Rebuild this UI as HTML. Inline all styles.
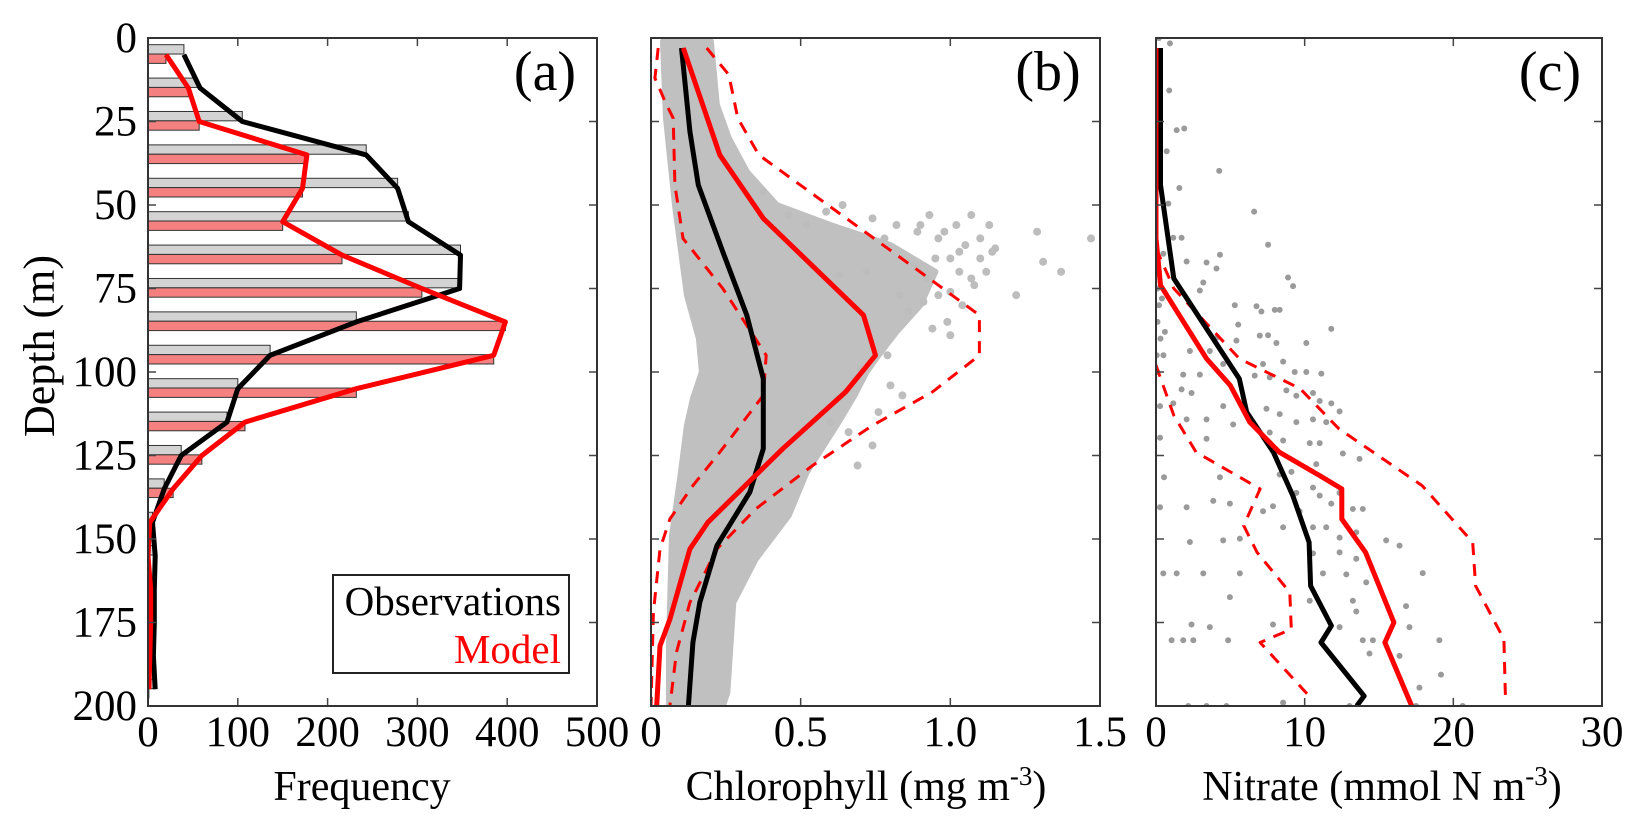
<!DOCTYPE html>
<html><head><meta charset="utf-8"><style>
html,body{margin:0;padding:0;background:#fff}
svg{display:block}
svg text{font-family:"Liberation Serif","DejaVu Serif","Times New Roman",Times,serif}
</style></head><body>
<svg id="c" width="1644" height="827" viewBox="0 0 1644 827" xmlns="http://www.w3.org/2000/svg" font-family="Liberation Serif, DejaVu Serif, serif"></svg>
<script>
// ---------- Panel (a) data ----------
const binDepths=[0,10,20,30,40,50,60,70,80,90,100,110,120,130,140,150,160,170,180,190];
const obsFreq=[40,55,105,243,278,290,348,347,232,136,100,88,37,18,5,8,7,7,6,8];
const modelFreq=[20,45,57,177,172,150,216,305,398,385,232,108,60,28,2,0,3,3,2,1];
const obsLineFreq=[40,58,105,243,278,290,348,347,232,136,100,88,37,18,5,8,7,7,6,8];
const modelLineFreq=[20,45,57,177,172,150,216,305,398,385,232,108,60,28,2,0,3,3,2,1];
const freqTicks=[0,100,200,300,400,500];
const depthTicks=[0,25,50,75,100,125,150,175,200];
// ---------- Panel (b) data ----------
const chlMedDepth=[3,28,44,64,83,102,123,136,152,169,181,200];
const chlMed=[0.102,0.13,0.158,0.24,0.32,0.375,0.375,0.33,0.22,0.163,0.14,0.125];
const chlModDepth=[3,35,54,83,95,106,123,145,153,174,182,200];
const chlMod=[0.108,0.23,0.375,0.71,0.75,0.65,0.44,0.19,0.13,0.063,0.03,0.019];
const chlHiDepth=[3,11,24,35,48,61,74,83,95,106,116,128,141,153,169,184,200];
const chlHi=[0.186,0.26,0.29,0.36,0.56,0.76,0.96,1.097,1.097,0.94,0.74,0.54,0.35,0.22,0.13,0.085,0.063];
const chlLoDepth=[3,12,19,24,44,60,75,95,107,124,134,144,153,172,200];
const chlLo=[0.024,0.013,0.047,0.074,0.08,0.107,0.24,0.385,0.375,0.23,0.14,0.063,0.03,0.008,0];
const cloudLeftDepth=[1,24,50,77,90,100,108,116,130,149,182,200];
const cloudLeft=[0.04,0.05,0.08,0.12,0.16,0.17,0.14,0.12,0.1,0.07,0.06,0.06];
const cloudRightDepth=[1,20,30,40,50,56,62,70,80,88,95,100,107,116,130,143,156,169,196,200];
const cloudRight=[0.2,0.22,0.26,0.32,0.42,0.6,0.8,0.95,0.9,0.82,0.76,0.72,0.68,0.62,0.52,0.46,0.35,0.275,0.255,0.24];
const chlDotVal=[0.375,0.46,0.52,0.585,0.64,0.74,0.82,0.93,1.02,1.07,1.13,1.14,1.10,1.03,0.96,0.89,1.07,0.96,0.91,0.99,0.94,1.0,1.22,1.29,1.31,1.37,1.47,0.79,0.80,0.84,0.76,0.74,0.69,0.62,1.03,0.83,0.72,0.63,1.1,1.05,1.0,0.98,1.12,1.08,0.95,0.88,0.92,1.15,1.04,0.86,0.78,0.9,1.0,0.7,0.68,0.6,0.66];
const chlDotDepth=[46,53,56,52,50,54,56,53,56,53,56,64,66,64,60,58,72,77,79,85,87,89,77,58,67,70,60,95,104,107,112,122,128,108,70,77,70,71,60,62,66,58,70,74,66,68,72,63,80,82,60,56,76,99,102,115,118];
const chlTicks=[0,0.5,1.0,1.5];
const chlTickLabels=["0","0.5","1.0","1.5"];
// ---------- Panel (c) data ----------
const no3MedDepth=[3,44,72,102,112,124,137,151,164,176,181,197,200];
const no3Med=[0.3,0.3,1.2,5.6,6.1,7.9,9.2,10.3,10.4,11.8,11.1,14,13.5];
const no3ModDepth=[3,60,74,96,104,115,124,131,135,144,154,175,181,200];
const no3Mod=[0,0,0.3,3.4,5,6.3,8.3,11,12.5,12.5,14.1,16,15.4,17.2];
const no3HiDepth=[63,75,96,105,117,134,151,164,180,197];
const no3Hi=[0,1.2,5.6,9.7,12.3,17.9,21.3,21.5,23.4,23.5];
const no3LoDepth=[98,113,124,135,146,154,166,177,181,197];
const no3Lo=[0,1.2,2.7,7,5.9,6.8,9,9.1,7,10.3];
const no3DotVal=[0.94,0.89,1.39,1.90,0.72,4.25,1.57,0.83,6.60,7.54,1.16,1.72,0.49,2.06,3.40,4.07,4.30,8.88,9.22,3.18,2.95,5.30,6.76,7.09,7.99,8.32,11.79,5.53,4.07,6.98,7.54,8.10,10.11,5.41,2.28,3.62,4.52,7.20,8.55,9.33,10.11,11.12,1.83,2.95,6.64,7.65,8.77,9.44,10.56,11.01,11.79,1.72,2.39,0.27,1.16,4.52,7.43,8.32,10.56,9.44,11.45,12.35,3.40,2.06,5.19,0.27,3.40,7.65,8.55,11.01,10.34,12.57,13.69,0.54,4.30,8.32,9.11,10.78,9.44,11.01,12.35,10.56,3.85,4.97,7.87,9.66,11.79,13.24,13.91,0.27,2.06,7.20,8.55,10.56,11.45,12.35,13.47,4.52,2.28,5.64,12.35,13.47,10.56,15.48,16.38,0.49,1.39,3.18,5.64,11.23,12.80,14.14,17.94,4.97,10.34,13.24,16.82,13.47,2.39,3.62,7.87,12.35,17.05,1.05,1.83,2.51,4.85,13.91,14.59,19.06,14.36,16.38,19.17,17.72,2.17,3.40,4.74,8.55,13.02,20.63,17.49,0.1,0.2,0.1,0.3,0.05,0.2,0.4,0.6,0.1,0.5,0.0,0.2,0.1];
const no3DotDepth=[1.6,15.7,27.6,27.1,33.9,39.8,44.9,49.6,52.0,61.9,59.8,59.8,64.6,66.9,67.2,69.0,64.9,71.7,74.3,73.2,75.6,80.0,80.3,81.9,81.4,81.4,87.1,85.8,89.8,89.1,89.0,91.3,91.3,90.6,93.7,93.7,97.6,97.6,96.9,100,100,100.5,100.8,100.8,101.1,101.6,105.5,107.1,106.3,108.7,109.4,105.2,106.3,110.2,109.4,110.2,111,112.6,114.2,115,115,111.8,114.2,114.2,115.7,119.7,120,118.1,120.5,121.3,121.3,124.4,126,131.5,131.5,130.7,129.9,127.6,136.2,137,136.2,134.6,138.6,139.4,140.2,141.7,139.4,141,141,140.5,140.5,141.7,146.5,146.5,146.5,149.6,148,150.4,150.9,149.9,154,155.9,154.3,150.4,152,160.3,160.3,160.3,160.3,160.3,160.6,163,160.2,167.4,168.5,168.5,170.1,171.7,175.6,176.4,175.6,176.4,176.4,180.3,180.3,180.3,180.3,180.3,180.3,180.3,184.3,185,190.6,194.5,200,200,200,199,200,200,200,75,80,85,90,95,70,78,88,100,95,0,0,5];
const no3Ticks=[0,10,20,30];

// ---------- Layout ----------
const NS="http://www.w3.org/2000/svg";
const svg=document.getElementById('c');
const Y0=38,Y1=706;
const yD=d=>Y0+d*(Y1-Y0)/200;
const panels={
 a:{x0:148,x1:597,min:0,max:500},
 b:{x0:651,x1:1100,min:0,max:1.5},
 c:{x0:1156,x1:1602,min:0,max:30}
};
const xf=p=>v=>p.x0+(v-p.min)*(p.x1-p.x0)/(p.max-p.min);
function mk(tag,attrs,parent){const e=document.createElementNS(NS,tag);for(const k in attrs)e.setAttribute(k,attrs[k]);(parent||svg).appendChild(e);return e;}
function txt(s,x,y,size,anchor,parent,fill){const t=mk('text',{x:x,y:y,'font-size':size,'text-anchor':anchor||'middle','font-family':'Liberation Serif, DejaVu Serif, serif'},parent);t.style.fill=fill||'#000';t.textContent=s;return t;}
function poly(vals,depths,X,color,w,dash,parent){
 let d='';for(let i=0;i<vals.length;i++)d+=(i?'L':'M')+X(vals[i]).toFixed(1)+','+yD(depths[i]).toFixed(1);
 const a={d:d,fill:'none',stroke:color,'stroke-width':w,'stroke-linejoin':'round'};if(dash)a['stroke-dasharray']=dash;
 return mk('path',a,parent);
}
const defs=mk('defs',{});
for(const k in panels){const p=panels[k];const cp=mk('clipPath',{id:'clip'+k},defs);mk('rect',{x:p.x0,y:Y0,width:p.x1-p.x0,height:Y1-Y0},cp);}

function frame(p,name,xt,xl,lab){
 const g=mk('g',{});
 
 
 const X=xf(p);
 depthTicks.forEach(d=>{const y=yD(d);mk('line',{x1:p.x0,y1:y,x2:p.x0+8,y2:y,stroke:'#444','stroke-width':1.5},g);mk('line',{x1:p.x1,y1:y,x2:p.x1-8,y2:y,stroke:'#444','stroke-width':1.5},g);});
 xt.forEach((v,i)=>{const x=X(v);mk('line',{x1:x,y1:Y1,x2:x,y2:Y1-8,stroke:'#444','stroke-width':1.5},g);mk('line',{x1:x,y1:Y0,x2:x,y2:Y0+8,stroke:'#444','stroke-width':1.5},g);
  const t=txt(xl[i],x,746,43,'middle',g);});
 mk('rect',{x:p.x0,y:Y0,width:p.x1-p.x0,height:Y1-Y0,fill:'none',stroke:'#333','stroke-width':2},g);
 const l=txt(lab,p.x1-52,90,56,'middle',g);
 
 
}

// ===== Panel a =====
(function(){
 const p=panels.a,X=xf(p);
 const g=mk('g',{'clip-path':'url(#clipa)'});
 
 
 binDepths.forEach((d,i)=>{
  const b1=mk('rect',{x:X(0),y:yD(d+2),width:X(obsFreq[i])-X(0),height:yD(d+4.8)-yD(d+2),fill:'#d3d3d3',stroke:'#333','stroke-width':1},g);
  
  
  const b2=mk('rect',{x:X(0),y:yD(d+4.8),width:X(modelFreq[i])-X(0),height:yD(d+7.6)-yD(d+4.8),fill:'#f58080',stroke:'#333','stroke-width':1},g);
  
  
 });
 const lineDepth=binDepths.map(d=>d+5);
 const l1=poly(obsLineFreq,lineDepth,X,'#000',5,null,g);
 
 
 const l2=poly(modelLineFreq,lineDepth,X,'#f00',5,null,g);
 
 
 frame(p,'a',freqTicks,freqTicks.map(String),'(a)');
 depthTicks.forEach(d=>{const t=txt(String(d),137,yD(d)+14,43,'end');});
 const yt=txt('Depth (m)',0,0,44,'middle');yt.setAttribute('transform','translate(54,346) rotate(-90)');
 
 
 const xt=txt('Frequency',362,800,42,'middle');
 
 
 const lg=mk('g',{});
 
 
 mk('rect',{x:333,y:575,width:236,height:98,fill:'#fff',stroke:'#222','stroke-width':2},lg);
 const e1=txt('Observations',561,615,41,'end',lg);
 
 
 const e2=txt('Model',561,663,41,'end',lg,'#f00');
 
 
})();

// ===== Panel b =====
(function(){
 const p=panels.b,X=xf(p);
 const g=mk('g',{'clip-path':'url(#clipb)'});
 
 
 let d='';
 cloudLeft.forEach((v,i)=>{d+=(i?'L':'M')+X(v)+','+yD(cloudLeftDepth[i]);});
 for(let i=cloudRight.length-1;i>=0;i--)d+='L'+X(cloudRight[i])+','+yD(cloudRightDepth[i]);
 const cl=mk('path',{d:d+'Z',fill:'#c0c0c0',stroke:'#c0c0c0','stroke-width':6,'stroke-linejoin':'round'},g);
 
 
 chlDotVal.forEach((v,i)=>{const c=mk('circle',{cx:X(v),cy:yD(chlDotDepth[i]),r:4,fill:'#bdbdbd'},g);
  
  });
 const a1=poly(chlLo,chlLoDepth,X,'#f00',3,'12,9',g);
 const a2=poly(chlHi,chlHiDepth,X,'#f00',3,'12,9',g);
 const a3=poly(chlMed,chlMedDepth,X,'#000',5,null,g);
 const a4=poly(chlMod,chlModDepth,X,'#f00',5,null,g);
 frame(p,'b',chlTicks,chlTickLabels,'(b)');
 const t=txt('',866,800,42,'middle');
 
 
 t.innerHTML='Chlorophyll (mg m<tspan dy="-15" font-size="27">-3</tspan><tspan dy="15">)</tspan>';
})();

// ===== Panel c =====
(function(){
 const p=panels.c,X=xf(p);
 const g=mk('g',{'clip-path':'url(#clipc)'});
 
 
 no3DotVal.forEach((v,i)=>{const c=mk('circle',{cx:X(v),cy:yD(no3DotDepth[i]),r:3,fill:'#9a9a9a'},g);
  
  });
 const a1=poly(no3Lo,no3LoDepth,X,'#f00',3,'12,9',g);
 const a2=poly(no3Hi,no3HiDepth,X,'#f00',3,'12,9',g);
 const a3=poly(no3Med,no3MedDepth,X,'#000',5,null,g);
 const a4=poly(no3Mod,no3ModDepth,X,'#f00',5,null,g);
 frame(p,'c',no3Ticks,no3Ticks.map(String),'(c)');
 const t=txt('',1382,800,42,'middle');
 
 
 t.innerHTML='Nitrate (mmol N m<tspan dy="-15" font-size="27">-3</tspan><tspan dy="15">)</tspan>';
})();
</script>
</body></html>
